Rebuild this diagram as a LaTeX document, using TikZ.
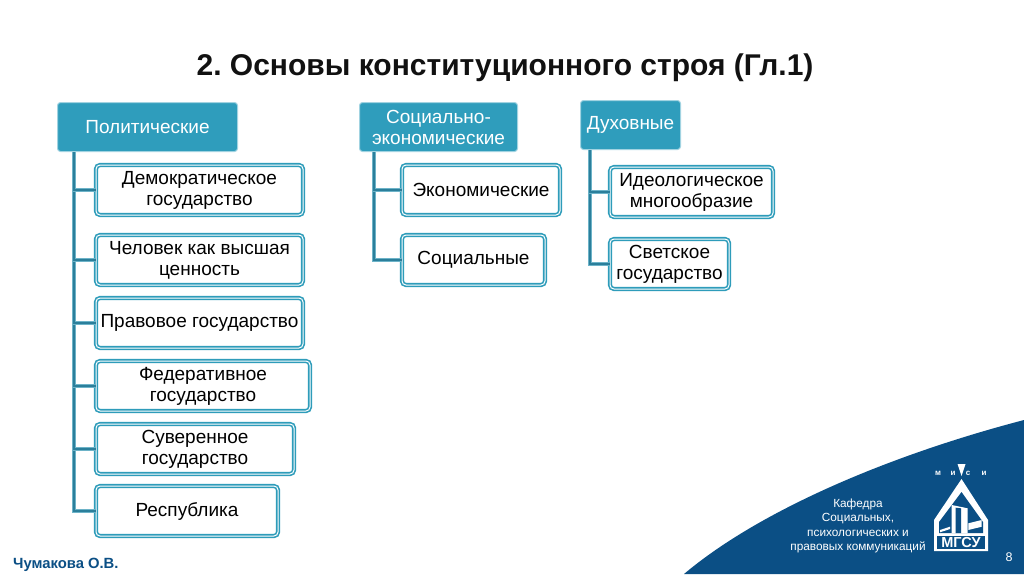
\documentclass[tikz,border=0pt]{standalone}
\usepackage{fontspec}
\setmainfont{Liberation Sans}
\usetikzlibrary{positioning,calc}
\definecolor{headteal}{HTML}{2F9DBC}
\definecolor{rimteal}{HTML}{2E9CBA}
\definecolor{linkteal}{HTML}{2B7F9B}
\definecolor{linklight}{HTML}{6DB3C8}
\definecolor{cornerblue}{HTML}{0B4F85}
\definecolor{titleblack}{HTML}{111111}

\begin{document}
\frenchspacing
\begin{tikzpicture}[
            x=1pt, y=-1pt,
            node distance=10pt,
            head/.style={rectangle, draw=headteal!45, line width=1pt, fill=headteal, rounded corners=3pt,
                        align=center, text=white, inner sep=0pt, outer sep=0pt,
                        font=\fontsize{19}{21}\selectfont, minimum height=49pt},
            item/.style={rectangle, draw=rimteal, line width=1.6pt, double=white, double distance=1pt,
                        fill=white, rounded corners=4pt, align=center, inner sep=0pt, outer sep=0pt,
                        font=\fontsize{19}{21}\selectfont, minimum height=50pt},
            link/.style={draw=linklight, line width=.9pt, double=linkteal, double distance=1.5pt},
            lbl/.style={text=white, inner sep=0pt, font=\fontsize{11.8}{14.5}\selectfont, align=center},
            letter/.style={text=white, inner sep=0pt, font=\fontsize{8}{9}\selectfont\bfseries}
        ]
            \useasboundingbox (0,0) rectangle (1024,574);
            \fill[white] (0,0) rectangle (1024,574);

            % corner
            \fill[cornerblue] (684,574) .. controls (760,510) and (890,455) .. (1024,420) -- (1024,574) -- cycle;

            \node[font=\fontsize{30}{34}\selectfont\bfseries, text=titleblack] (title) at (505,68) {2. Основы конституционного строя (Гл.1)};

            % first column
            \node[head, minimum width=180pt, anchor=north west] (pol) at (57.5,102.5) {Политические};
            \node[item, minimum width=207pt, anchor=north west] (dem) at (96,165) {Демократическое\\государство};
            \node[item, minimum width=207pt, below=20pt of dem.south west, anchor=north west] (man) {Человек как высшая\\ценность};
            \node[item, minimum width=207pt, below=13pt of man.south west, anchor=north west] (law) {Правовое государство};
            \node[item, minimum width=214pt, below=13pt of law.south west, anchor=north west] (fed) {Федеративное\\государство};
            \node[item, minimum width=198pt, below=13pt of fed.south west, anchor=north west] (sov) {Суверенное\\государство};
            \node[item, minimum width=182pt, below=12pt of sov.south west, anchor=north west] (rep) {Республика};

            % second column
            \node[head, minimum width=158pt, anchor=north west] (soc) at (359.5,102.5) {Социально-\\экономические};
            \node[item, minimum width=158pt, anchor=north west] (eco) at (402,165) {Экономические};
            \node[item, minimum width=143pt, below=20pt of eco.south west, anchor=north west] (pub) {Социальные};

            % third column
            \node[head, minimum width=100pt, anchor=north west] (spi) at (580.5,100.5) {Духовные};
            \node[item, minimum width=163pt, anchor=north west] (ide) at (610,167) {Идеологическое\\многообразие};
            \node[item, minimum width=119pt, below=22pt of ide.south west, anchor=north west] (sec) {Светское\\государство};

            % roots of the links
            \coordinate (polroot) at (74,152);
            \coordinate (socroot) at (374,152);
            \coordinate (spiroot) at (590,150);

            \foreach \leaf in {rep,sov,fed,law,man,dem}
                \draw[link] (polroot) |- (\leaf.west);
            \foreach \leaf in {pub,eco}
                \draw[link] (socroot) |- (\leaf.west);
            \foreach \leaf in {sec,ide}
                \draw[link] (spiroot) |- (\leaf.west);

            % logo
            \node[lbl] (dept) at (858,526) {Кафедра\\Социальных,\\психологических и\\правовых коммуникаций};
            \fill[white] (957.5,464) -- (965.5,464) -- (961.5,476) -- cycle;
            \node[letter] (mlet) at (938,473) {м};
            \node[letter] (ilet) at (953,473) {и};
            \node[letter] (slet) at (968,473) {с};
            \node[letter] (jlet) at (984,473) {и};
            \fill[white] (961.5,479) -- (988,520) -- (988,551) -- (934,551) -- (934,520) -- cycle;
            \fill[cornerblue] (961.5,492) -- (983,522) -- (983,533) -- (939,533) -- (939,522) -- cycle;
            \fill[white] (951.7,505) -- (967.7,508.3) -- (967.7,533) -- (951.7,533) -- cycle;
            \fill[cornerblue] (955.7,507.7) -- (961,508.3) -- (961,533) -- (955.7,533) -- cycle;
            \fill[white] (968.3,523.3) -- (981.7,520) -- (981.7,526.7) -- (968.3,530) -- cycle;
            \fill[white] (940,530) -- (950,526.7) -- (950,529) -- (940,532.3) -- cycle;
            \fill[cornerblue] (937,535.5) rectangle (985,549);
            \node[letter, font=\fontsize{14.5}{15}\selectfont\bfseries] (mgsu) at (961,542.5) {МГСУ};

            \node[letter, font=\fontsize{12.5}{13}\selectfont] (pagenum) at (1009,557) {8};
            \node[text=cornerblue, inner sep=0pt, font=\fontsize{14.8}{16}\selectfont\bfseries, anchor=west] (author) at (13,565) {Чумакова О.В.};
        \end{tikzpicture}
\end{document}
